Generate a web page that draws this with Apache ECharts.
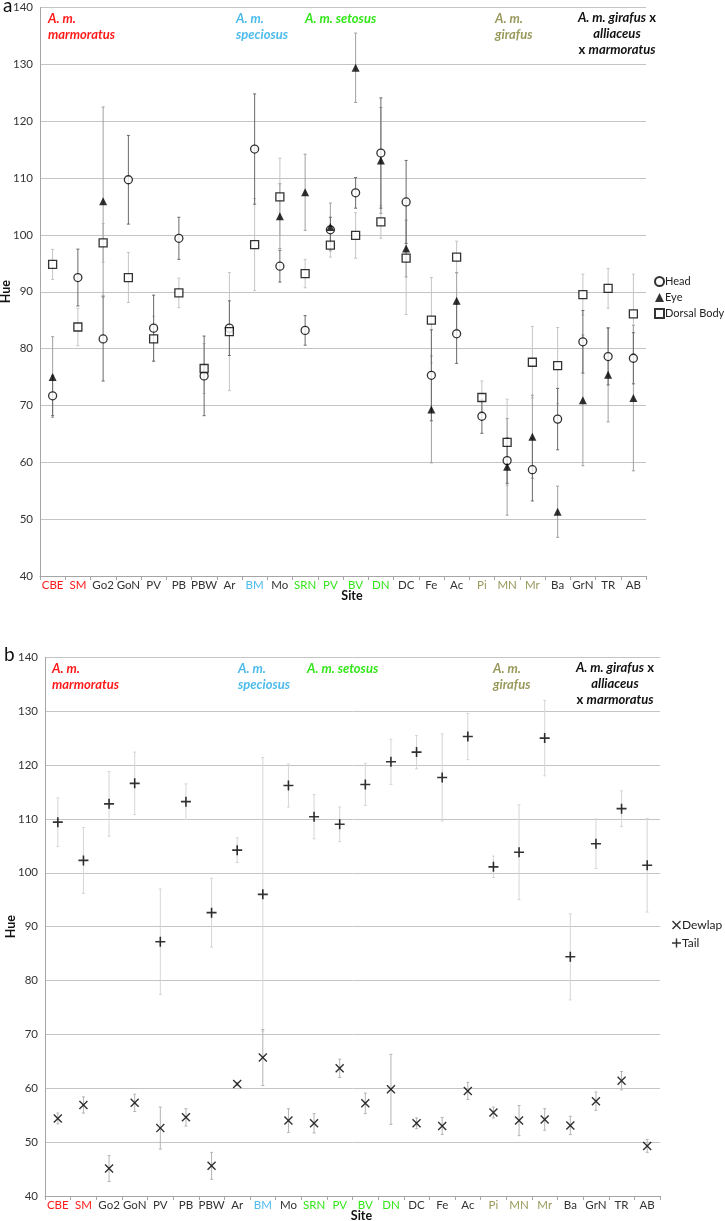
<!DOCTYPE html>
<html>
<head>
<meta charset="utf-8">
<script src="https://cdn.jsdelivr.net/npm/echarts@6/dist/echarts.min.js"></script>
<style>
  html, body { margin: 0; padding: 0; background: #fff; }
  #chart { width: 725px; height: 1221px; }
</style>
</head>
<body>
<div id="chart"></div>
<script>
// sites along the x axis (same order in both panels)
const sites = ["CBE", "SM", "Go2", "GoN", "PV", "PB", "PBW", "Ar", "BM", "Mo", "SRN", "PV",
  "BV", "DN", "DC", "Fe", "Ac", "Pi", "MN", "Mr", "Ba", "GrN", "TR", "AB"];
const siteGroup = ["mar", "mar", "oth", "oth", "oth", "oth", "oth", "oth", "spe", "oth", "set", "set",
  "set", "set", "oth", "oth", "oth", "gir", "gir", "gir", "oth", "oth", "oth", "oth"];
const yTicks = [40, 50, 60, 70, 80, 90, 100, 110, 120, 130, 140];

// panel a: means and +/- error
const head = [71.7, 92.5, 81.7, 109.7, 83.6, 99.4, 75.2, 83.6, 115.1, 94.5, 83.2, 100.9,
  107.4, 114.4, 105.8, 75.3, 82.6, 68.1, 60.3, 58.7, 67.6, 81.2, 78.6, 78.3];
const headErr = [3.5, 5.0, 7.4, 7.8, 5.8, 3.7, 7.0, 4.8, 9.7, 2.8, 2.6, 2.2,
  2.7, 9.7, 7.3, 8.0, 5.2, 3.0, 4.0, 5.5, 5.4, 5.5, 5.0, 4.5];
const eye = [75.0, null, 105.9, null, null, null, null, null, null, 103.3, 107.5, 101.4,
  129.4, 113.1, 97.6, 69.3, 88.4, null, 59.2, 64.5, 51.3, 70.9, 75.4, 71.3];
const eyeErr = [7.1, 0, 16.6, 0, 0, 0, 0, 0, 0, 5.7, 6.7, 4.2,
  6.1, 9.3, 5.0, 9.4, 5.0, 0, 8.5, 7.3, 4.5, 11.5, 8.3, 12.8];
const dorsal = [94.8, 83.8, 98.6, 92.5, 81.7, 89.8, 76.5, 83.0, 98.3, 106.7, 93.2, 98.2,
  99.9, 102.3, 95.9, 85.0, 96.1, 71.4, 63.5, 77.6, 77.0, 89.5, 90.6, 86.1];
const dorsalErr = [2.65, 3.3, 3.4, 4.4, 4.0, 2.6, 4.4, 10.4, 8.1, 6.8, 2.5, 2.1,
  4.0, 2.9, 9.9, 7.5, 2.8, 2.9, 7.6, 6.3, 6.7, 3.6, 3.5, 7.0];

// panel b
const dewlap = [54.4, 56.9, 45.1, 57.3, 52.6, 54.6, 45.6, 60.8, 65.7, 54.0, 53.5, 63.7,
  57.2, 59.8, 53.5, 53.0, 59.5, 55.5, 54.0, 54.2, 53.1, 57.6, 61.4, 49.3];
const dewlapErr = [1.0, 1.5, 2.4, 1.6, 3.9, 1.6, 2.5, 0.3, 5.2, 2.2, 1.8, 1.7,
  1.9, 6.5, 1.0, 1.6, 1.6, 1.0, 2.8, 2.0, 1.7, 1.7, 1.7, 1.2];
const tail = [109.4, 102.3, 112.8, 116.6, 87.2, 113.2, 92.6, 104.2, 96.0, 116.2, 110.4, 109.0,
  116.4, 120.6, 122.4, 117.7, 125.3, 101.1, 103.8, 125.0, 84.4, 105.4, 111.9, 101.4];
const tailErr = [4.5, 6.1, 6.0, 5.8, 9.8, 3.3, 6.4, 2.3, 25.4, 4.0, 4.1, 3.2,
  3.9, 4.2, 3.1, 8.1, 4.3, 2.0, 8.8, 7.0, 8.0, 4.6, 3.3, 8.7];

const groupColor = { mar: "#ff1a1a", spe: "#4dbbec", set: "#33e619", gir: "#99995c", oth: "#333333" };
const FONT = "Lato";

const plusPath = "path://M4.2,0H5.8V4.2H10V5.8H5.8V10H4.2V5.8H0V4.2H4.2Z";
const crossPath = "path://M1.1,0L5,3.9L8.9,0L10,1.1L6.1,5L10,8.9L8.9,10L5,6.1L1.1,10L0,8.9L3.9,5L0,1.1Z";

function points(vals) {
  return vals.map((v, i) => (v == null ? null : [i, v])).filter(Boolean);
}
function bars(vals, errs) {
  return vals.map((v, i) => (v == null ? null : [i, v - errs[i], v + errs[i]])).filter(Boolean);
}
function errSeries(grid, vals, errs, color) {
  return {
    type: "custom",
    xAxisIndex: grid, yAxisIndex: grid,
    z: 1, silent: true,
    encode: { x: 0, y: [1, 2] },
    data: bars(vals, errs),
    renderItem: (params, api) => {
      const lo = api.coord([api.value(0), api.value(1)]);
      const hi = api.coord([api.value(0), api.value(2)]);
      const st = { stroke: color, lineWidth: 1 };
      return {
        type: "group",
        children: [
          { type: "line", shape: { x1: lo[0], y1: lo[1], x2: hi[0], y2: hi[1] }, style: st },
          { type: "line", shape: { x1: lo[0] - 1.5, y1: lo[1], x2: lo[0] + 1.5, y2: lo[1] }, style: st },
          { type: "line", shape: { x1: hi[0] - 1.5, y1: hi[1], x2: hi[0] + 1.5, y2: hi[1] }, style: st },
        ],
      };
    },
  };
}

function xAxis(grid) {
  return {
    type: "category", gridIndex: grid, data: sites,
    name: "Site", nameLocation: "middle", nameGap: 13, nameMoveOverlap: false,
    nameTextStyle: { fontFamily: FONT, fontWeight: "bold", fontSize: 12.5, color: "#111", padding: [0, 0, 0, 18] },
    axisLine: { lineStyle: { color: "#a6a6a6" } },
    axisTick: { show: true, length: 4, lineStyle: { color: "#a6a6a6" } },
    axisLabel: {
      interval: 0, margin: 3, fontFamily: FONT, fontSize: 11.5,
      color: (val, idx) => groupColor[siteGroup[idx]],
    },
    splitLine: { show: false },
  };
}
function yAxis(grid, gap) {
  return {
    type: "value", gridIndex: grid, min: yTicks[0], max: yTicks[yTicks.length - 1], interval: 10,
    name: "Hue", nameLocation: "middle", nameGap: gap, nameRotate: 90, nameMoveOverlap: false,
    nameTextStyle: { fontFamily: FONT, fontWeight: "bold", fontSize: 12.5, color: "#111" },
    axisLine: { show: true, lineStyle: { color: "#a6a6a6" } },
    axisTick: { show: false },
    axisLabel: { fontFamily: FONT, fontSize: 11.5, color: "#333", margin: 7 },
    splitLine: { lineStyle: { color: "#c4c4c4" } },
  };
}

function groupLabels(dy, xs) {
  const base = { fontFamily: FONT, fontSize: 13, fontWeight: "bold", fontStyle: "italic" };
  const txt = (x, y, text, color) => ({
    type: "text", x, y,
    style: Object.assign({ text, fill: color, align: "left", verticalAlign: "top" }, base),
  });
  const rich = {
    i: Object.assign({ fill: "#111", lineHeight: 16 }, base),
    n: Object.assign({}, base, { fontStyle: "normal", fill: "#111", lineHeight: 16 }),
  };
  return [
    txt(xs[0], dy, "A. m.", groupColor.mar), txt(xs[0], dy + 16, "marmoratus", groupColor.mar),
    txt(xs[1], dy, "A. m.", groupColor.spe), txt(xs[1], dy + 16, "speciosus", groupColor.spe),
    txt(xs[2], dy, "A. m. setosus", groupColor.set),
    txt(xs[3], dy, "A. m.", groupColor.gir), txt(xs[3], dy + 16, "girafus", groupColor.gir),
    {
      type: "text", x: xs[4], y: dy - 2,
      style: {
        text: "{i|A. m. girafus} {n|x}\n{i|alliaceus}\n{n|x} {i|marmoratus}",
        align: "center", verticalAlign: "top", rich,
      },
    },
  ];
}

const chart = echarts.init(document.getElementById("chart"), null, { renderer: "canvas" });
chart.setOption({
  backgroundColor: "#fff",
  animation: false,
  textStyle: { fontFamily: FONT },
  grid: [
    { left: 40, top: 7.5, width: 606, height: 568.5, outerBoundsMode: "none" },
    { left: 45, top: 657.3, width: 615, height: 538.7, outerBoundsMode: "none" },
  ],
  xAxis: [xAxis(0), xAxis(1)],
  yAxis: [yAxis(0, 28), yAxis(1, 28)],
  legend: [
    {
      orient: "vertical", left: 654, top: 276, padding: 0, itemWidth: 9, itemHeight: 9, itemGap: 5,
      textStyle: { fontFamily: FONT, fontSize: 11, color: "#222", padding: [0, 0, 0, -4] },
      data: [
        { name: "Head", icon: "circle" },
        { name: "Eye", icon: "triangle" },
        { name: "Dorsal Body", icon: "rect" },
      ],
    },
    {
      orient: "vertical", left: 672, top: 919, padding: 0, itemWidth: 9, itemHeight: 9, itemGap: 6,
      textStyle: { fontFamily: FONT, fontSize: 12, color: "#222", padding: [0, 0, 0, -4] },
      data: [
        { name: "Dewlap", icon: crossPath },
        { name: "Tail", icon: plusPath },
      ],
    },
  ],
  graphic: [
    { type: "text", x: 3, y: -4, style: { text: "a", fontFamily: FONT, fontSize: 19, fill: "#111", verticalAlign: "top" } },
    { type: "text", x: 4, y: 645, style: { text: "b", fontFamily: FONT, fontSize: 19, fill: "#111", verticalAlign: "top" } },
  ].concat(groupLabels(12, [48, 236, 305, 495, 617]))
   .concat(groupLabels(662, [52, 238, 307, 493, 615])),
  series: [
    errSeries(0, dorsal, dorsalErr, "#c4c4c4"),
    errSeries(0, eye, eyeErr, "#a0a0a0"),
    errSeries(0, head, headErr, "#6a6a6a"),
    {
      name: "Head", type: "scatter", xAxisIndex: 0, yAxisIndex: 0, z: 3,
      symbol: "circle", symbolSize: 8,
      itemStyle: { color: "#fff", borderColor: "#000", borderWidth: 1.3 },
      data: points(head),
    },
    {
      name: "Eye", type: "scatter", xAxisIndex: 0, yAxisIndex: 0, z: 3,
      symbol: "triangle", symbolSize: 8,
      itemStyle: { color: "#000" },
      data: points(eye),
    },
    {
      name: "Dorsal Body", type: "scatter", xAxisIndex: 0, yAxisIndex: 0, z: 3,
      symbol: "rect", symbolSize: 8,
      itemStyle: { color: "#fff", borderColor: "#000", borderWidth: 1.3 },
      data: points(dorsal),
    },
    errSeries(1, tail, tailErr, "#d6d6d6"),
    errSeries(1, dewlap, dewlapErr, "#b4b4b4"),
    {
      name: "Dewlap", type: "scatter", xAxisIndex: 1, yAxisIndex: 1, z: 3,
      symbol: crossPath, symbolSize: 9,
      itemStyle: { color: "#000" },
      data: points(dewlap),
    },
    {
      name: "Tail", type: "scatter", xAxisIndex: 1, yAxisIndex: 1, z: 3,
      symbol: plusPath, symbolSize: 10,
      itemStyle: { color: "#000" },
      data: points(tail),
    },
  ],
});
</script>
</body>
</html>
